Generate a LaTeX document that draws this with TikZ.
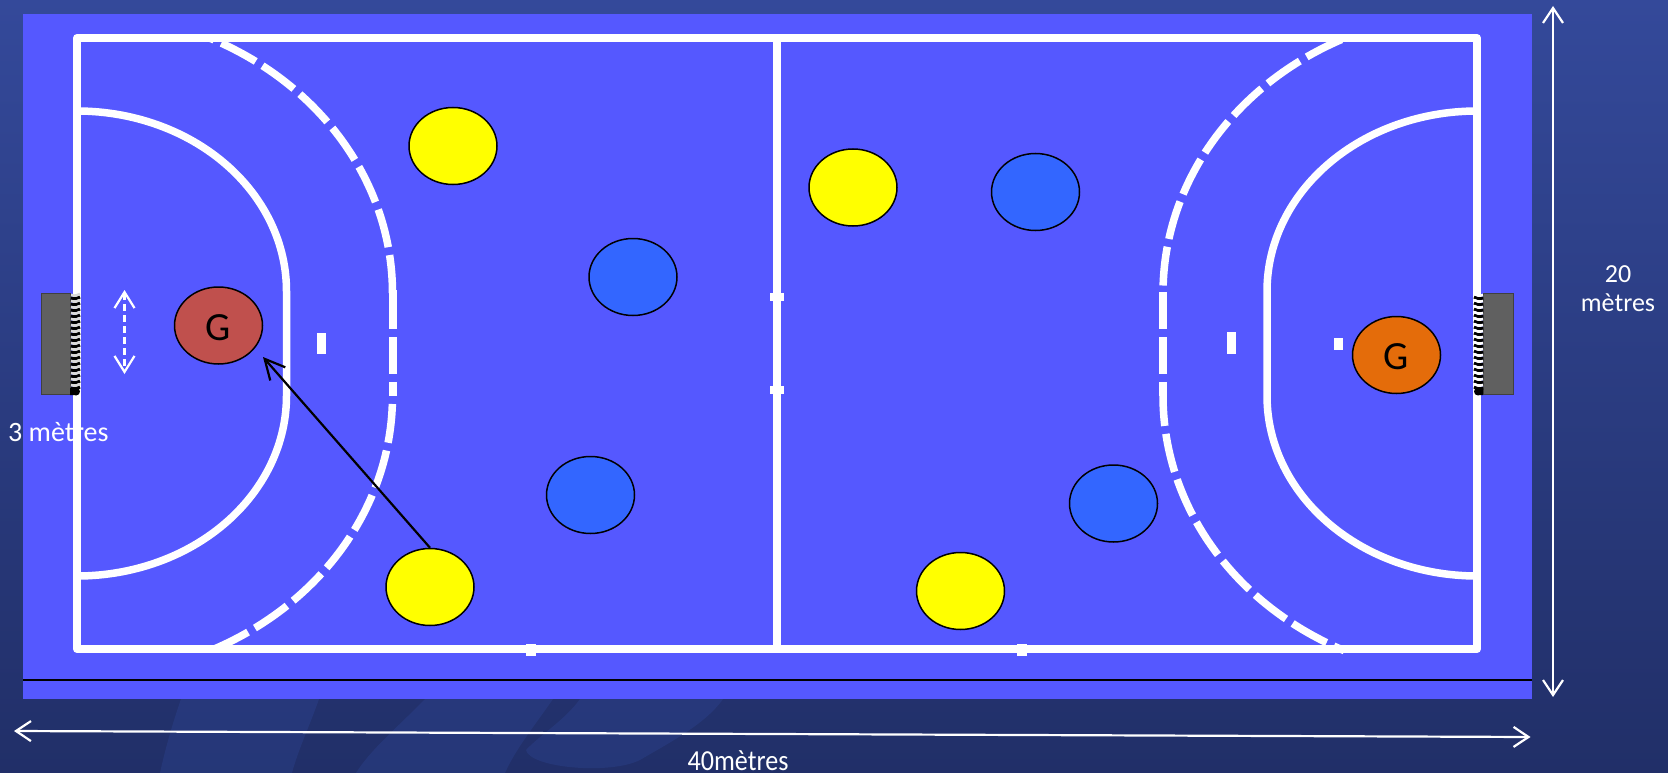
\documentclass[tikz,border=0pt]{standalone}
\usepackage{fontspec}
\setmainfont{Carlito}
\usetikzlibrary{arrows.meta,shapes.geometric}
\definecolor{field}{HTML}{5558FF}
\definecolor{bgtop}{HTML}{34499A}
\definecolor{bgbot}{HTML}{212F68}
\definecolor{wave}{HTML}{3A5CC0}
\definecolor{player}{HTML}{FFFF00}
\definecolor{team}{HTML}{3366FF}
\definecolor{keeperA}{HTML}{C0504D}
\definecolor{keeperB}{HTML}{E46C0A}
\definecolor{goalc}{HTML}{606060}
\tikzset{
  courtline/.style={white,line width=8pt},
  boundary/.style={courtline,line join=round},
  arealine/.style={white,line width=7.5pt},
  freeline/.style={white,line width=7.5pt,dash pattern=on 39pt off 8pt,dash phase=#1},
  freeseg/.style={white,line width=8pt},
  pl/.style={ellipse,draw=black,line width=1.5pt,minimum width=88pt,minimum height=77pt,inner sep=0pt,font=\fontsize{40}{40}\selectfont},
  yellowp/.style={pl,fill=player},
  bluep/.style={pl,fill=team},
  dimarrow/.style={white,line width=2.2pt,{Straight Barb[length=15pt,width=20pt,line width=2.2pt]}-{Straight Barb[length=15pt,width=20pt,line width=2.2pt]}},
  dimtext/.style={white,font=\fontsize{#1}{29}\selectfont,align=center,inner sep=0pt},
  goalbox/.style={draw=black!75,line width=1pt,fill=goalc},
  markbox/.style={fill=white,inner sep=0pt,draw=none},
  wavefill/.style={wave,opacity=0.18}
}
\begin{document}
\begin{tikzpicture}[x=1pt,y=-1pt]
\useasboundingbox (0,0) rectangle (1668,773);
\shade[top color=bgtop,bottom color=bgbot] (0,0) rectangle (1668,773);
% faint background waves
\fill[wavefill] (181,699) .. controls (172,725) and (165,750) .. (160,773) -- (292,773) .. controls (298,750) and (310,725) .. (319,699) -- cycle;
\fill[wavefill] (425,699) .. controls (400,725) and (370,750) .. (356,773) -- (505,773) .. controls (515,750) and (535,725) .. (553,699) -- cycle;
\fill[wavefill] (580,699) .. controls (565,720) and (540,735) .. (526,750) .. controls (530,768) and (610,775) .. (640,760) .. controls (665,745) and (705,725) .. (723,699) -- cycle;
% field
\fill[field] (23,14) rectangle (1532,699);
\coordinate (lineL) at (23,680);
\coordinate (lineR) at (1532,680);
\draw[black,line width=1.4pt] (lineL) -- (lineR);
% court
\coordinate (c1) at (77,38);
\coordinate (c2) at (1477,38);
\coordinate (c3) at (1477,649);
\coordinate (c4) at (77,649);
\coordinate (midT) at (777,38);
\coordinate (midB) at (777,649);
\draw[boundary] (c1) -- (c2) -- (c3) -- (c4) -- cycle;
\draw[courtline] (midT) -- (midB);
% goal areas
\draw[arealine] plot[domain=90:0,samples=60] ({77+209.5*cos(\x)},{291-180*sin(\x)})
  -- plot[domain=0:-90,samples=60] ({77+209.5*cos(\x)},{396-180*sin(\x)});
\draw[arealine] plot[domain=90:0,samples=60] ({1477-210*cos(\x)},{291-180*sin(\x)})
  -- plot[domain=0:-90,samples=60] ({1477-210*cos(\x)},{396-180*sin(\x)});
% free throw lines
\draw[freeline=35pt] plot[domain=65:0,samples=70] ({77+315.5*cos(\x)},{293-281*sin(\x)});
\draw[freeline=39pt] plot[domain=0:-65,samples=70] ({77+315.5*cos(\x)},{396-281*sin(\x)});
\draw[freeseg] (392.5,290) -- (392.5,329) (392.5,337) -- (392.5,374) (392.5,382) -- (392.5,396);
\draw[freeline=44pt] plot[domain=65:0,samples=70] ({1477-314*cos(\x)},{293-281*sin(\x)});
\draw[freeline=9pt] plot[domain=0:-65,samples=70] ({1477-314*cos(\x)},{396-281*sin(\x)});
\draw[freeseg] (1163,292) -- (1163,329) (1163,337) -- (1163,374) (1163,382) -- (1163,396);
% marks
\node[markbox,minimum width=9pt,minimum height=21pt] (m7L) at (321.5,343) {};
\node[markbox,minimum width=9pt,minimum height=22pt] (m7R) at (1231.5,343) {};
\node[markbox,minimum width=9pt,minimum height=12pt] (m4R) at (1338,344) {};
\node[markbox,minimum width=14pt,minimum height=8pt] (mm1) at (777,297) {};
\node[markbox,minimum width=14pt,minimum height=8pt] (mm2) at (777,390) {};
\node[markbox,minimum width=10pt,minimum height=12pt] (mb1) at (531,650) {};
\node[markbox,minimum width=10pt,minimum height=12pt] (mb2) at (1022,650) {};
% goals
\draw[goalbox] (41,293) rectangle (70,394);
\draw[goalbox] (1483,293) rectangle (1513,394);
\foreach \yy in {296,302,...,386}{
  \draw[black,line width=3.2pt] (71,\yy+2) .. controls (75,\yy+3.5) and (78,\yy+2) .. (80,\yy+1);
  \draw[white!85!black,line width=2.6pt] (71,\yy-1) .. controls (75,\yy+.5) and (78,\yy-1) .. (80,\yy-2);
  \draw[black,line width=3.2pt] (1483,\yy+2) .. controls (1479,\yy+3.5) and (1476,\yy+2) .. (1474,\yy+1);
  \draw[white,line width=2.6pt] (1483,\yy-1) .. controls (1479,\yy+.5) and (1476,\yy-1) .. (1474,\yy-2);
}
\fill[black] (70,388) rectangle (76,395) (76,391.5) circle (4pt);
\fill[black] (1478,388) rectangle (1483,395) (1478,391.5) circle (4pt);
% players
\node[pl,fill=keeperA] (gk1) at (218.5,325.5) {\raisebox{-2pt}[25pt][0pt]{G}};
\node[pl,fill=keeperB] (gk2) at (1396.5,355) {\raisebox{-2pt}[25pt][0pt]{G}};
\node[yellowp] (y1) at (453,146) {};
\node[bluep] (b1) at (633,277) {};
\node[bluep] (b2) at (590.5,495) {};
\node[yellowp] (y2) at (430,587) {};
\node[yellowp] (y3) at (853,187.5) {};
\node[bluep] (b3) at (1035.5,192) {};
\node[bluep] (b4) at (1113.5,503.5) {};
\node[yellowp] (y4) at (960.5,591) {};
% arrows
\coordinate (passEnd) at (263,357);
\draw[black,line width=2.2pt,-{Straight Barb[length=20pt,width=20pt,line width=2.2pt]}] (y2.north) -- (passEnd);
\coordinate (dt) at (124.5,290);
\coordinate (db) at (124.5,374);
\draw[white,line width=2.4pt,dash pattern=on 7pt off 4pt,{Straight Barb[length=16pt,width=20pt,line width=2.2pt]}-{Straight Barb[length=16pt,width=20pt,line width=2.2pt]}] (dt) -- (db);
\coordinate (vt) at (1553,6);
\coordinate (vb) at (1553,697);
\draw[dimarrow] (vt) -- (vb);
\coordinate (hl) at (14,731);
\coordinate (hr) at (1530.5,737);
\draw[dimarrow] (hl) -- (hr);
% labels
\node[dimtext=26] (t20) at (1618,289) {20\\mètres};
\node[dimtext=28,anchor=west] (t3) at (8,432) {3 mètres};
\node[dimtext=29,xscale=.9] (t40) at (738,760.5) {40mètres};
\end{tikzpicture}
\end{document}
